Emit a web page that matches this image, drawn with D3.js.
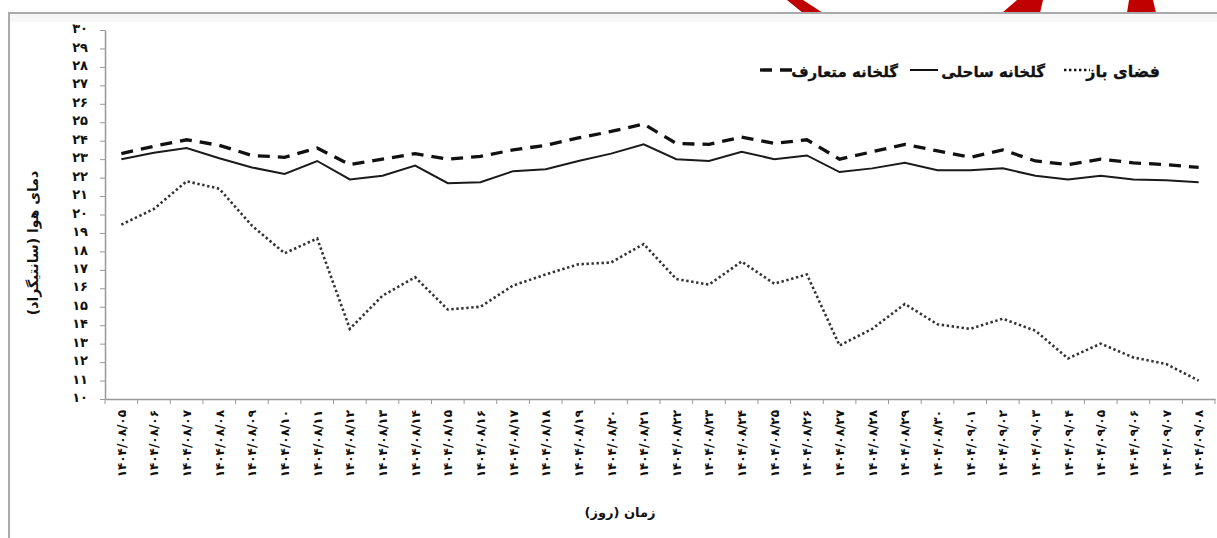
<!DOCTYPE html>
<html lang="fa">
<head>
<meta charset="utf-8">
<script src="https://cdn.jsdelivr.net/npm/d3@7"></script>
<style>
  html, body { margin: 0; padding: 0; background: #fff; }
  svg { display: block; }
  text { font-family: "DejaVu Sans", "Noto Sans", sans-serif; font-weight: bold; fill: #111; }
</style>
</head>
<body>
<svg id="chart" width="1217" height="538"></svg>
<script>
// ---- data ----
const categories = [
  "1404/08/05","1404/08/06","1404/08/07","1404/08/08","1404/08/09","1404/08/10",
  "1404/08/11","1404/08/12","1404/08/13","1404/08/14","1404/08/15","1404/08/16",
  "1404/08/17","1404/08/18","1404/08/19","1404/08/20","1404/08/21","1404/08/22",
  "1404/08/23","1404/08/24","1404/08/25","1404/08/26","1404/08/27","1404/08/28",
  "1404/08/29","1404/08/30","1404/09/01","1404/09/02","1404/09/03","1404/09/04",
  "1404/09/05","1404/09/06","1404/09/07","1404/09/08"
];
const conventional = [23.3, 23.7, 24.05, 23.75, 23.2, 23.1, 23.6, 22.7, 23.0, 23.3, 23.0, 23.15,
  23.5, 23.75, 24.15, 24.5, 24.9, 23.85, 23.8, 24.2, 23.85, 24.05, 23.0, 23.4, 23.8, 23.45,
  23.1, 23.5, 22.9, 22.7, 23.0, 22.8, 22.7, 22.55];
const coastal = [23.0, 23.35, 23.6, 23.05, 22.55, 22.2, 22.9, 21.9, 22.1, 22.65, 21.7, 21.75,
  22.35, 22.45, 22.9, 23.3, 23.8, 23.0, 22.9, 23.4, 23.0, 23.2, 22.3, 22.5, 22.8, 22.4,
  22.4, 22.5, 22.1, 21.9, 22.1, 21.9, 21.85, 21.75];
const openField = [19.45, 20.3, 21.8, 21.4, 19.4, 17.9, 18.7, 13.8, 15.6, 16.6, 14.85, 15.0,
  16.15, 16.75, 17.3, 17.4, 18.4, 16.5, 16.2, 17.45, 16.25, 16.75, 12.9, 13.8, 15.15, 14.05,
  13.8, 14.35, 13.7, 12.2, 13.0, 12.25, 11.9, 11.0];
const yTicks = d3.range(10, 31, 1);
const seriesNames = ["فضای باز", "گلخانه ساحلی", "گلخانه متعارف"];
const yTitle = "دمای هوا (سانتیگراد)";
const xTitle = "زمان (روز)";

const fa = s => String(s).replace(/[0-9]/g, d => "۰۱۲۳۴۵۶۷۸۹"[+d]);

// ---- layout ----
const svg = d3.select("#chart");
const mLeft = 105, mRight = 1215, mTop = 30, mBottom = 399;

// decorative red shapes at top
const reds = [
  [[787,0],[803,0],[823,13],[803,13]],
  [[1017,0],[1043,0],[1040,13],[1002,13]],
  [[1129,0],[1153,0],[1156,13],[1127,13]]
];
svg.selectAll("polygon.red").data(reds).join("polygon")
  .attr("points", d => d.map(p => p.join(",")).join(" "))
  .attr("fill", "#c00000");

// frame
svg.append("rect").attr("x", 9).attr("y", 14).attr("width", 1210).attr("height", 8)
  .attr("fill", "#f7f7f7");
svg.append("line").attr("x1", 8).attr("x2", 1217).attr("y1", 13).attr("y2", 13)
  .attr("stroke", "#aaa").attr("stroke-width", 2);
svg.append("line").attr("x1", 9).attr("x2", 9).attr("y1", 13).attr("y2", 538)
  .attr("stroke", "#aaa").attr("stroke-width", 2);

const x = d3.scaleBand().domain(categories).range([mLeft, mRight]).padding(0);
const y = d3.scaleLinear().domain([10, 30]).range([mBottom, mTop]);
const cx = c => x(c) + x.bandwidth() / 2;

// axes
const yAxis = svg.append("g").attr("transform", `translate(${mLeft},0)`)
  .call(d3.axisLeft(y).tickValues(yTicks).tickSize(5).tickSizeOuter(0).tickFormat(d => fa(d)));
yAxis.select(".domain").attr("stroke", "#999").attr("stroke-width", 1.5);
yAxis.selectAll(".tick line").attr("stroke", "#999");
yAxis.selectAll(".tick text").attr("x", -17).attr("dy", "0.2em").attr("font-size", 13)
  .attr("font-family", "DejaVu Sans").attr("font-weight", "bold").attr("fill", "#222");

const xAxis = svg.append("g").attr("transform", `translate(0,${mBottom})`)
  .call(d3.axisBottom(x).tickSize(0).tickFormat(""));
xAxis.select(".domain").attr("stroke", "#999").attr("stroke-width", 1.5);
// tick marks at band boundaries
svg.append("g").selectAll("line").data(categories.concat(["end"])).join("line")
  .attr("x1", (d, i) => mLeft + i * x.bandwidth()).attr("x2", (d, i) => mLeft + i * x.bandwidth())
  .attr("y1", mBottom).attr("y2", mBottom + 5).attr("stroke", "#999");
// x labels rotated
svg.append("g").selectAll("text").data(categories).join("text")
  .attr("transform", d => `translate(${cx(d) + 4.5},410) rotate(-90)`)
  .attr("text-anchor", "end").attr("font-size", 12).attr("fill", "#222")
  .text(d => fa(d));

// lines
const line = vals => d3.line().x((d, i) => cx(categories[i])).y(d => y(d))(vals);
svg.append("path").attr("d", line(openField)).attr("fill", "none")
  .attr("stroke", "#333").attr("stroke-width", 2.6).attr("stroke-dasharray", "2.4 2.6");
svg.append("path").attr("d", line(coastal)).attr("fill", "none")
  .attr("stroke", "#1a1a1a").attr("stroke-width", 2);
svg.append("path").attr("d", line(conventional)).attr("fill", "none")
  .attr("stroke", "#111").attr("stroke-width", 3.3).attr("stroke-dasharray", "12 8");

// legend
const lg = svg.append("g");
const legend = [
  {name: seriesNames[0], tx: 1160, s: [1064, 1090], dash: "2.4 2.6", w: 2.4, fs: 16},
  {name: seriesNames[1], tx: 1045, s: [910, 938], dash: null, w: 2, fs: 15},
  {name: seriesNames[2], tx: 898, s: [760, 797], dash: "12 8", w: 3.3, fs: 15}
];
legend.forEach(l => {
  lg.append("text").attr("x", l.tx).attr("y", 77)
    .attr("direction", "rtl").attr("text-anchor", "start").attr("font-size", l.fs)
    .attr("stroke", "#111").attr("stroke-width", 0.3).text(l.name);
  lg.append("line").attr("x1", l.s[0]).attr("x2", l.s[1]).attr("y1", 70).attr("y2", 70)
    .attr("stroke", "#111").attr("stroke-width", l.w)
    .attr("stroke-dasharray", l.dash);
});

// titles
svg.append("text").attr("transform", "translate(38,243) rotate(-90)")
  .attr("text-anchor", "middle").attr("direction", "rtl").attr("font-size", 14).text(yTitle);
svg.append("text").attr("x", 620).attr("y", 517).attr("text-anchor", "middle")
  .attr("direction", "rtl").attr("font-size", 13).text(xTitle);
</script>
</body>
</html>
